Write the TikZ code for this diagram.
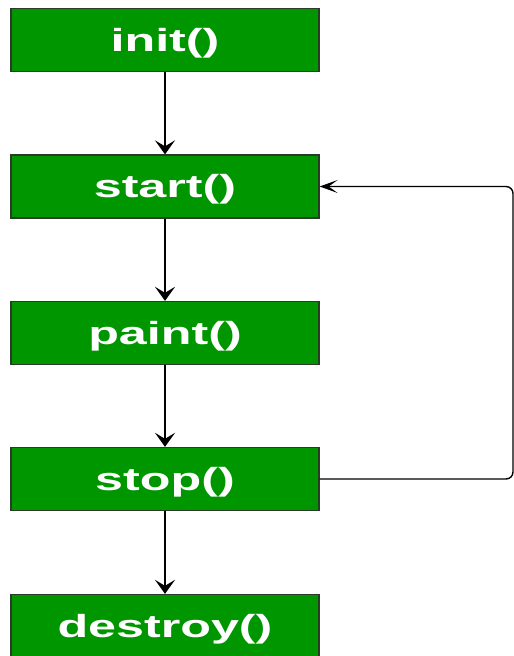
\documentclass[tikz,border=0pt]{standalone}
\usepackage{fontspec}
\setmainfont{Liberation Sans}
\usetikzlibrary{arrows.meta}
\definecolor{boxgreen}{RGB}{0,150,0}
\definecolor{boxedge}{RGB}{40,60,40}
\tikzset{
  stagebox/.style={draw=boxedge, line width=1.3pt, fill=boxgreen, minimum width=308pt, minimum height=63pt, inner sep=0pt, text height=28pt, text depth=6pt, text=white, font=\fontsize{32}{34}\selectfont\bfseries},
  flow/.style={draw=black, line width=2.2pt, -{Stealth[length=14pt,width=20pt,inset=6pt]}},
  back/.style={draw=black, line width=1.4pt, rounded corners=7pt, -{Stealth[length=18pt,width=13pt,inset=9pt]}}
}
\newcommand{\wide}[1]{\scalebox{1.57}[1]{#1}}
\begin{document}
\begin{tikzpicture}[x=1pt,y=1pt]
\useasboundingbox (0,0) rectangle (514,-656);
\fill[white] (0,0) rectangle (514,-656);
\node[stagebox] (init) at (165,-40) {\wide{init()}};
\node[stagebox] (start) at (165,-186.5) {\wide{start()}};
\node[stagebox] (paint) at (165,-333) {\wide{paint()}};
\node[stagebox] (stop) at (165,-479) {\wide{stop()}};
\node[stagebox] (destroy) at (165,-626) {\wide{destroy()}};
\coordinate (c1) at (513,-479);
\coordinate (c2) at (513,-186.5);
\draw[flow] (init) -- (start);
\draw[flow] (start) -- (paint);
\draw[flow] (paint) -- (stop);
\draw[flow] (stop) -- (destroy);
\draw[back] (stop.east) -- (c1) -- (c2) -- (start.east);
\end{tikzpicture}
\end{document}
